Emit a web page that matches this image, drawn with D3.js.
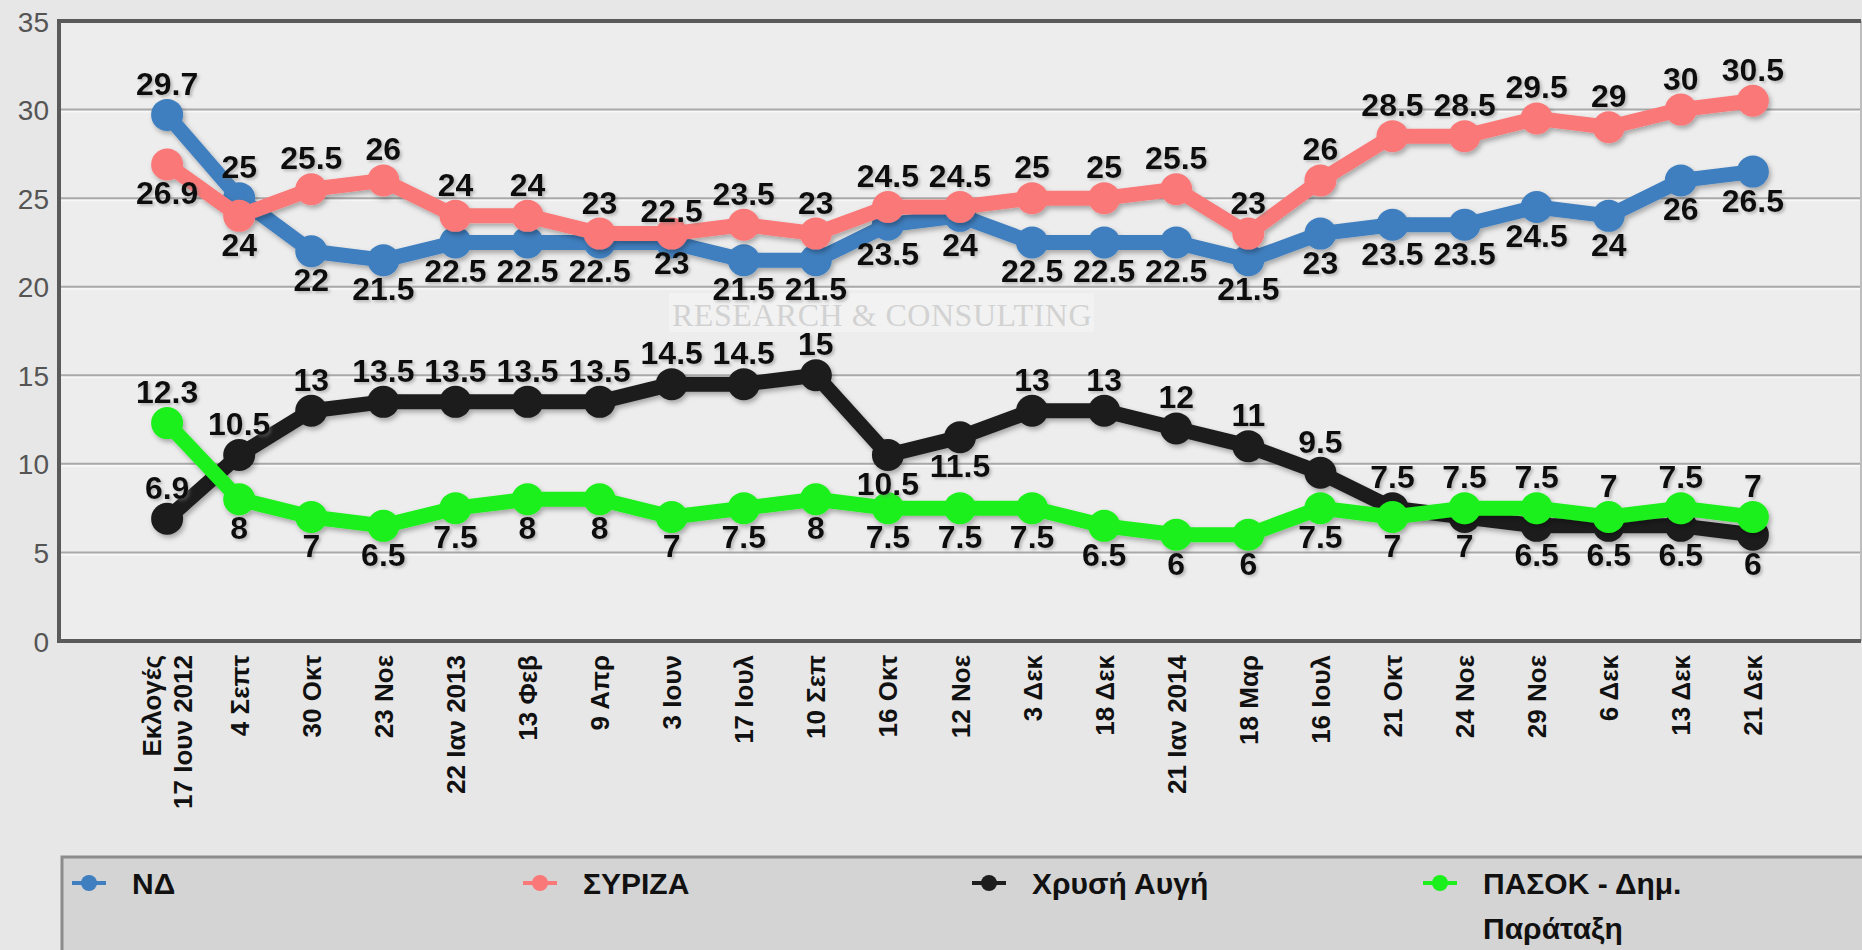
<!DOCTYPE html>
<html>
<head>
<meta charset="utf-8">
<script src="https://cdn.jsdelivr.net/npm/d3@7/dist/d3.min.js"></script>
<style>
  html, body { margin: 0; padding: 0; background: #e7e7e7; }
  svg { display: block; }
</style>
</head>
<body>
<svg id="chart" width="1862" height="950"></svg>
<script>
// ---------------- DATA ----------------
const categories = [
  "Εκλογές|17 Ιουν 2012", "4 Σεπτ", "30 Οκτ", "23 Νοε", "22 Ιαν 2013", "13 Φεβ",
  "9 Απρ", "3 Ιουν", "17 Ιουλ", "10 Σεπ", "16 Οκτ", "12 Νοε", "3 Δεκ", "18 Δεκ",
  "21 Ιαν 2014", "18 Μαρ", "16 Ιουλ", "21 Οκτ", "24 Νοε", "29 Νοε", "6 Δεκ",
  "13 Δεκ", "21 Δεκ"
];
const nd     = [29.7, 25, 22, 21.5, 22.5, 22.5, 22.5, 22.5, 21.5, 21.5, 23.5, 24, 22.5, 22.5, 22.5, 21.5, 23, 23.5, 23.5, 24.5, 24, 26, 26.5];
const syriza = [26.9, 24, 25.5, 26, 24, 24, 23, 23, 23.5, 23, 24.5, 24.5, 25, 25, 25.5, 23, 26, 28.5, 28.5, 29.5, 29, 30, 30.5];
const xa     = [6.9, 10.5, 13, 13.5, 13.5, 13.5, 13.5, 14.5, 14.5, 15, 10.5, 11.5, 13, 13, 12, 11, 9.5, 7.5, 7, 6.5, 6.5, 6.5, 6];
const pasok  = [12.3, 8, 7, 6.5, 7.5, 8, 8, 7, 7.5, 8, 7.5, 7.5, 7.5, 6.5, 6, 6, 7.5, 7, 7.5, 7.5, 7, 7.5, 7];
const yTicks = [0, 5, 10, 15, 20, 25, 30, 35];
const seriesNames = ["ΝΔ", "ΣΥΡΙΖΑ", "Χρυσή Αυγή", "ΠΑΣΟΚ - Δημ.|Παράταξη"];

// label placement (a = above point, b = below point)
const ndSide     = "aabbbbbabbbbbbbbbbbbbbb";
const syrizaSide = "bbaaaaabaaaaaaaaaaaaaaa";
const xaSide     = "aaaaaaaaaabbaaaaaabbbbb";
const pasokSide  = "abbbbbbbbbbbbbbbbbaaaaa";

// ---------------- LAYOUT ----------------
const svg = d3.select("#chart");
const plot = { left: 59, right: 1861, top: 21, bottom: 641 };
const colors = ["#3f7fbf", "#fa7878", "#1e1e1e", "#1cf01c"];

const x = d3.scalePoint().domain(categories).range([plot.left, plot.right]).padding(1.5);
const y = d3.scaleLinear().domain([0, 35]).range([plot.bottom, plot.top]);

const defs = svg.append("defs");
const sh = defs.append("filter").attr("id", "shadow").attr("x", "-10%").attr("y", "-10%").attr("width", "120%").attr("height", "130%");
sh.append("feDropShadow").attr("dx", 2).attr("dy", 3).attr("stdDeviation", 2.5).attr("flood-color", "#000").attr("flood-opacity", 0.3);
const tsh = defs.append("filter").attr("id", "tshadow").attr("x", "-20%").attr("y", "-20%").attr("width", "140%").attr("height", "150%");
tsh.append("feDropShadow").attr("dx", 2).attr("dy", 2).attr("stdDeviation", 1.5).attr("flood-color", "#777").attr("flood-opacity", 0.45);

// plot background
svg.append("rect")
  .attr("x", plot.left).attr("y", plot.top)
  .attr("width", plot.right - plot.left).attr("height", plot.bottom - plot.top)
  .attr("fill", "#ededed");

// watermark
svg.append("rect").attr("x", 669).attr("y", 293).attr("width", 425).attr("height", 39)
  .attr("fill", "#f2f2f2").attr("opacity", 0.8);
svg.append("text").attr("x", 882).attr("y", 326).attr("text-anchor", "middle")
  .attr("font-family", "Liberation Serif, serif").attr("font-size", 32)
  .attr("fill", "#d2d2d2").attr("letter-spacing", 0.5)
  .text("RESEARCH & CONSULTING");

// grid lines
const gridVals = yTicks.filter(v => v > 0 && v < 35);
svg.append("g").selectAll("line").data(gridVals).join("line")
  .attr("x1", plot.left).attr("x2", plot.right)
  .attr("y1", d => y(d) + 2).attr("y2", d => y(d) + 2)
  .attr("stroke", "#f7f7f7").attr("stroke-width", 2);
svg.append("g").selectAll("line").data(gridVals).join("line")
  .attr("x1", plot.left).attr("x2", plot.right)
  .attr("y1", d => y(d)).attr("y2", d => y(d))
  .attr("stroke", "#a9a9a9").attr("stroke-width", 2);

// frame
svg.append("line").attr("x1", plot.right).attr("x2", plot.right).attr("y1", plot.top).attr("y2", plot.bottom)
  .attr("stroke", "#bdbdbd").attr("stroke-width", 2);
svg.append("line").attr("x1", plot.left - 2).attr("x2", plot.right).attr("y1", plot.top).attr("y2", plot.top)
  .attr("stroke", "#5a5a5a").attr("stroke-width", 4);
svg.append("line").attr("x1", plot.left - 2).attr("x2", plot.right).attr("y1", plot.bottom).attr("y2", plot.bottom)
  .attr("stroke", "#5a5a5a").attr("stroke-width", 4);
svg.append("line").attr("x1", plot.left).attr("x2", plot.left).attr("y1", plot.top).attr("y2", plot.bottom)
  .attr("stroke", "#5a5a5a").attr("stroke-width", 4);

// y axis labels
const yAxis = d3.axisLeft(y).tickValues(yTicks).tickSize(0).tickPadding(10);
const ya = svg.append("g").attr("transform", `translate(${plot.left},0)`).call(yAxis);
ya.select(".domain").remove();
ya.selectAll("text").attr("font-family", "Liberation Sans, Arial, sans-serif")
  .attr("font-size", 28).attr("fill", "#555").attr("dy", "0.36em");

// x axis labels
const xAxis = d3.axisBottom(x).tickSize(0).tickFormat(() => "");
const xa_g = svg.append("g").attr("transform", `translate(0,${plot.bottom})`).call(xAxis);
xa_g.select(".domain").remove();
xa_g.selectAll(".tick").each(function(d) {
  const lines = d.split("|");
  const g = d3.select(this);
  const n = lines.length;
  lines.forEach((ln, i) => {
    const off = (i - (n - 1) / 2) * 31;
    g.append("text")
      .attr("transform", `translate(${off + 9},14) rotate(-90)`)
      .attr("text-anchor", "end")
      .attr("font-family", "Liberation Sans, Arial, sans-serif")
      .attr("font-weight", "bold").attr("font-size", 26).attr("fill", "#111")
      .text(ln);
  });
});

// series
const series = [
  { values: nd, side: ndSide },
  { values: syriza, side: syrizaSide },
  { values: xa, side: xaSide },
  { values: pasok, side: pasokSide }
];
const line = d3.line().x((d, i) => x(categories[i])).y(d => y(d));

series.forEach((s, k) => {
  const g = svg.append("g").attr("filter", "url(#shadow)");
  g.append("path").datum(s.values).attr("d", line)
    .attr("fill", "none").attr("stroke", colors[k]).attr("stroke-width", 15)
    .attr("stroke-linejoin", "round").attr("stroke-linecap", "round");
  g.selectAll("circle").data(s.values).join("circle")
    .attr("cx", (d, i) => x(categories[i])).attr("cy", d => y(d))
    .attr("r", 16).attr("fill", colors[k]);
});

// data labels
const lg = svg.append("g").attr("filter", "url(#tshadow)");
series.forEach(s => {
  lg.selectAll(null).data(s.values).join("text")
    .attr("x", (d, i) => x(categories[i]))
    .attr("y", (d, i) => s.side[i] === "a" ? y(d) - 20 : y(d) + 40)
    .attr("text-anchor", "middle")
    .attr("font-family", "Liberation Sans, Arial, sans-serif")
    .attr("font-weight", "bold").attr("font-size", 32).attr("fill", "#111")
    .text(d => String(d));
});

// legend
svg.append("rect").attr("x", 62).attr("y", 857).attr("width", 1810).attr("height", 110)
  .attr("fill", "#d4d4d4").attr("stroke", "#8c8c8c").attr("stroke-width", 3);
const legendX = [89, 540, 989, 1440];
seriesNames.forEach((name, k) => {
  const cx = legendX[k];
  svg.append("line").attr("x1", cx - 17).attr("x2", cx + 17).attr("y1", 883).attr("y2", 883)
    .attr("stroke", colors[k]).attr("stroke-width", 4);
  svg.append("circle").attr("cx", cx).attr("cy", 883).attr("r", 8).attr("fill", colors[k]);
  name.split("|").forEach((ln, i) => {
    svg.append("text").attr("x", cx + 43).attr("y", 894 + i * 45)
      .attr("font-family", "Liberation Sans, Arial, sans-serif")
      .attr("font-weight", "bold").attr("font-size", 30).attr("fill", "#111")
      .text(ln);
  });
});
</script>
</body>
</html>
